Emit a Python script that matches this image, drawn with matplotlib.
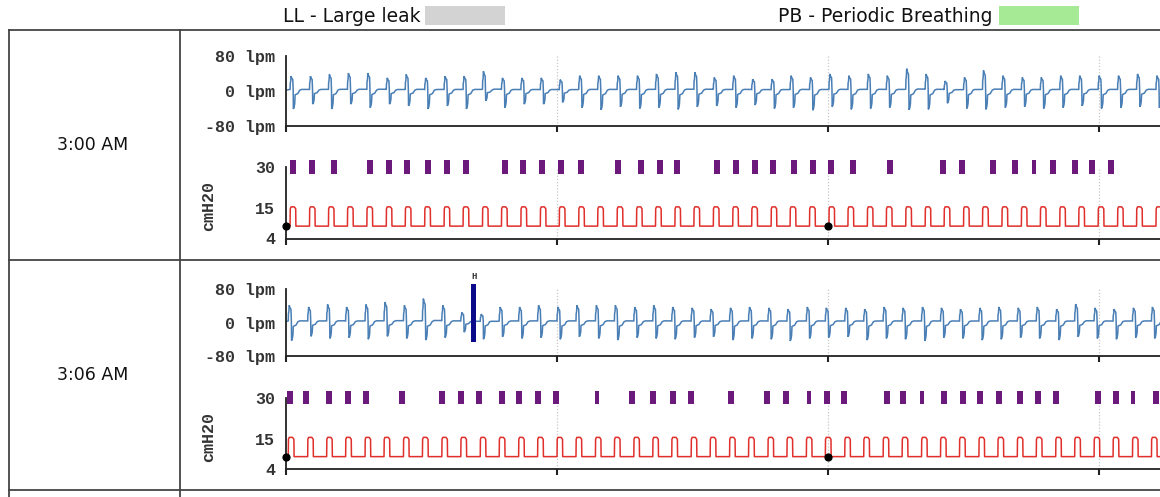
import numpy as np
import matplotlib.pyplot as plt
from matplotlib.lines import Line2D
from matplotlib.patches import Rectangle

W, H = 1160, 497

# %%
# chart data (time in seconds from the row start)
row_times = ['3:00 AM', '3:06 AM']
legend_labels = ['LL - Large leak', 'PB - Periodic Breathing']
legend_colors = ['#d3d3d3', '#a6ea96']

flow_ticks = [-80, 0, 80]
flow_ticklabels = ['-80 lpm', '0 lpm', '80 lpm']
pres_ticks = [4, 15, 30]
minute_ticks = [0, 60, 120, 180]

# one breath: fraction of the period -> fraction of peak (+) / trough (-)
flow_phase = [0.0, 0.01, 0.03, 0.05, 0.09, 0.14, 0.16, 0.17, 0.21, 0.24, 0.26, 0.40, 0.50, 0.60, 0.95]
flow_shape = [0.05, 0.5, 0.6, 1.0, 0.85, 0.75, 0.0, -1.0, -0.9, -0.7, -0.25, -0.18, 0.0, 0.05, 0.05]
# one pressure pulse: fraction of the period -> fraction between low and high
pres_phase = [0.0, 0.01, 0.05, 0.22, 0.29, 0.30, 1.0]
pres_shape = [0.0, 0.9, 1.0, 1.0, 0.9, 0.0, 0.0]
pres_low = 8.5
pres_high = 15.5

row1_onsets = [0.9, 5.2, 9.4, 13.6, 17.9, 22.2, 26.4, 30.7, 35.0, 39.2, 43.5, 47.7,
               52.0, 56.3, 60.5, 64.8, 69.0, 73.3, 77.6, 81.8, 86.1, 90.3, 94.6, 98.9,
               103.1, 107.4, 111.6, 115.9, 120.2, 124.4, 128.7, 132.9, 137.2, 141.5,
               145.7, 150.0, 154.2, 158.5, 162.8, 167.0, 171.3, 175.5, 179.8, 184.1,
               188.3, 192.6]
row1_peaks = [32, 32, 36, 39, 39, 28, 36, 28, 32, 32, 43, 28, 28, 28, 24,
              33, 33, 33, 33, 37, 41, 41, 29, 33, 25, 25, 33, 29, 37, 33, 37,
              33, 49, 37, 21, 29, 45, 33, 29, 29, 33, 33, 33, 33, 37, 33]
row1_troughs = [-43, -32, -43, -32, -40, -32, -36, -43, -36, -43, -24, -40, -32, -32, -28,
                -40, -45, -38, -42, -40, -44, -38, -36, -40, -34, -42, -40, -46, -38, -44,
                -42, -40, -45, -44, -30, -42, -44, -40, -38, -42, -40, -36, -42, -40,
                -38, -40]
row1_marks = [1.5, 5.8, 10.6, 18.6, 22.8, 26.8, 31.4, 35.6, 39.8, 48.5, 52.5, 56.7,
              60.9, 65.3, 73.5, 78.6, 82.8, 86.6, 95.4, 99.6, 103.8, 107.8, 112.5,
              116.7, 120.7, 125.5, 133.7, 145.4, 149.7, 156.5, 161.4, 165.6, 169.8,
              174.7, 178.4, 182.6]
row1_narrow = [165.6]
row1_dots = [0, 120]

row2_onsets = [0.5, 4.8, 9.0, 13.2, 17.5, 21.7, 26.0, 30.2, 34.5, 38.7, 43.0, 47.2,
               51.5, 55.7, 60.0, 64.2, 68.5, 72.7, 77.0, 81.2, 85.4, 89.7, 93.9, 98.2,
               102.4, 106.7, 110.9, 115.2, 119.4, 123.7, 127.9, 132.2, 136.4, 140.7,
               144.9, 149.1, 153.4, 157.6, 161.9, 166.1, 170.4, 174.6, 178.9, 183.1,
               187.4, 191.6]
row2_peaks = [39, 35, 41, 35, 41, 47, 39, 55, 39, 22, 18, 35, 35, 39, 35, 39, 39, 39, 35, 39, 35,
              33, 30, 33, 35, 33, 30, 35, 33, 33, 30, 35, 33, 35, 33, 30, 33, 35, 33, 35,
              30, 42, 33, 30, 33, 35]
row2_troughs = [-45, -35, -40, -38, -42, -35, -40, -44, -38, -25, -42, -36, -40, -38, -42,
                -36, -40, -44, -38, -40, -42, -38, -36, -44, -40, -42, -46, -40, -38, -36,
                -44, -40, -42, -46, -38, -40, -44, -42, -38, -40, -44, -36, -40, -42,
                -38, -40]
row2_marks = [0.9, 4.4, 9.5, 13.7, 17.7, 25.7, 34.5, 38.7, 42.7, 47.8, 51.6, 55.8, 59.8,
              68.9, 76.6, 81.2, 85.7, 89.7, 98.5, 106.5, 110.7, 115.8, 119.8, 123.5,
              133.1, 136.6, 140.8, 145.7, 149.9, 153.6, 157.8, 162.5, 166.5, 170.5,
              179.8, 183.7, 187.5, 192.6]
row2_narrow = [68.9, 115.8, 140.8, 187.5]
row2_dots = [0, 120]
row2_event = 41.6
row2_event_label = 'H'
row2_event_span = [-47, 92]


# %%
def build_flow(onsets, peaks, troughs):
    t, v = [0.0], [0.0]
    for i, start in enumerate(onsets):
        period = onsets[i + 1] - start if i + 1 < len(onsets) else start - onsets[i - 1]
        for ph, sh in zip(flow_phase, flow_shape):
            t.append(start + ph * period)
            v.append(sh * peaks[i] if sh > 0 else sh * abs(troughs[i]))
    return np.array(t), np.array(v)


def build_pressure(onsets):
    t, v = [0.0], [pres_low]
    for i, start in enumerate(onsets):
        period = onsets[i + 1] - start if i + 1 < len(onsets) else start - onsets[i - 1]
        for ph, sh in zip(pres_phase, pres_shape):
            t.append(start + ph * period)
            v.append(pres_low + sh * (pres_high - pres_low))
    return np.array(t), np.array(v)


def box(left, top, right, bottom):
    return [left / W, 1 - bottom / H, (right - left) / W, (bottom - top) / H]


def style_axes(ax):
    for side in ['top', 'right']:
        ax.spines[side].set_visible(False)
    for side in ['left', 'bottom']:
        ax.spines[side].set_color('#222222')
        ax.spines[side].set_linewidth(1.3)
    ax.set_xlim(0, (1160 - 286) / 4.517)
    ax.set_xticks(minute_ticks, [''] * len(minute_ticks))
    ax.tick_params(axis='x', length=4, width=1.5, color='#222222', direction='out')
    ax.tick_params(axis='y', length=0, pad=8, labelsize=12, labelcolor='#333333')
    for lab in ax.get_yticklabels():
        lab.set_fontfamily('Liberation Mono')
        lab.set_fontweight('bold')
    for x in minute_ticks[1:]:
        ax.axvline(x, color='#c8c8c8', lw=0.9, ls=(0, (1, 1.5)), zorder=0)
    ax.set_facecolor('none')


def mono(**kw):
    return dict(family='Liberation Mono', weight='bold', color='#333333', **kw)


# %%
fig = plt.figure(figsize=(W / 100, H / 100), dpi=100)

rows = [
    dict(onsets=row1_onsets, peaks=row1_peaks, troughs=row1_troughs, marks=row1_marks,
         narrow=row1_narrow, dots=row1_dots, flow_box=(56, 126), pres_box=(167, 238.5),
         label_y=145),
    dict(onsets=row2_onsets, peaks=row2_peaks, troughs=row2_troughs, marks=row2_marks,
         narrow=row2_narrow, dots=row2_dots, flow_box=(289, 356), pres_box=(397.5, 469),
         label_y=375),
]

for k, r in enumerate(rows):
    # flow panel
    ax = fig.add_axes(box(286, r['flow_box'][0], 1160, r['flow_box'][1]))
    ax.set_ylim(-80, 80)
    ax.set_yticks(flow_ticks, flow_ticklabels)
    style_axes(ax)
    ft, fv = build_flow(r['onsets'], r['peaks'], r['troughs'])
    ax.plot(ft, fv + 2, color='#4a7fb6', lw=1.1, solid_joinstyle='miter')
    if k == 1:
        ax.bar(row2_event, row2_event_span[1] - row2_event_span[0], bottom=row2_event_span[0],
               width=1.1, color='#0b0b8a', clip_on=False, zorder=3)
        ax.text(row2_event, row2_event_span[1] + 6, row2_event_label, ha='center',
                va='bottom', fontsize=6.5, **mono())

    # pressure panel
    ax2 = fig.add_axes(box(286, r['pres_box'][0], 1160, r['pres_box'][1]))
    ax2.set_ylim(4, 30)
    ax2.set_yticks(pres_ticks, [str(v) for v in pres_ticks])
    style_axes(ax2)
    pt, pv = build_pressure(r['onsets'])
    ax2.plot(pt, pv, color='#e0302c', lw=1.1)
    widths = [0.8 if m in r['narrow'] else 1.3 for m in r['marks']]
    ax2.bar(r['marks'], 4.8, bottom=27.6, width=widths, color='#6b1a7c',
            clip_on=False, zorder=3)
    ax2.scatter(r['dots'], [pres_low] * len(r['dots']), s=24, color='black',
                clip_on=False, zorder=4)
    ax2.set_ylabel('cmH20', fontsize=12, labelpad=28, y=0.45, **mono())

    fig.text(93 / W, 1 - r['label_y'] / H, row_times[k], ha='center', va='center',
             fontsize=12.5, color='#111111')

# table lines
for y in [30, 260, 490]:
    fig.add_artist(Line2D([9 / W, 1], [1 - y / H] * 2, color='#444444', lw=1.3))
for x in [9, 180]:
    fig.add_artist(Line2D([x / W] * 2, [1 - 30 / H, 0], color='#444444', lw=1.3))

# legend header
for label, color, text_x, box_x in zip(legend_labels, legend_colors, [421, 993], [425, 999]):
    fig.text(text_x / W, 1 - 17 / H, label, ha='right', va='center', fontsize=13.5,
             color='#111111')
    fig.add_artist(Rectangle((box_x / W, 1 - 25 / H), 80 / W, 19 / H,
                             transform=fig.transFigure, color=color, lw=0))

fig.savefig('out.png', dpi=100)
